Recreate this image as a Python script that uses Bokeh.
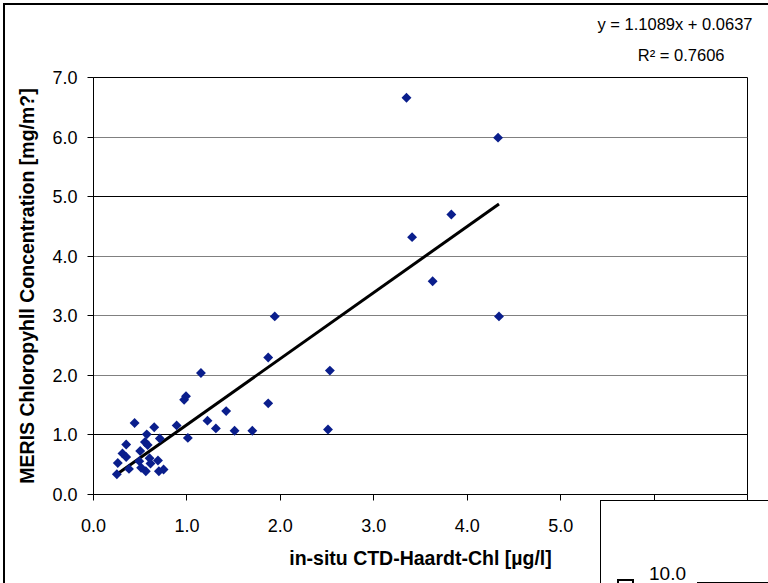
import math
from bokeh.plotting import figure
from bokeh.models import Range1d, FixedTicker, Grid, NumeralTickFormatter, Title, Div
from bokeh.layouts import column
from bokeh.embed import file_html
from bokeh.resources import INLINE

# in-situ CTD-Haardt-Chl [µg/l]
insitu_chl = [0.25, 0.26, 0.31, 0.35, 0.35, 0.38, 0.44, 0.50, 0.49, 0.57,
              0.55, 0.58, 0.51, 0.56, 0.60, 0.61, 0.65, 0.69, 0.71, 0.70,
              0.75, 0.89, 0.97, 0.99, 1.01, 1.15, 1.22, 1.31, 1.42, 1.51,
              1.70, 1.87, 1.87, 1.94, 2.53, 2.51, 3.35, 3.41, 3.63, 3.83,
              4.33, 4.34]
# MERIS chlorophyll concentration [mg/m3]
meris_chl = [0.34, 0.53, 0.69, 0.84, 0.63, 0.43, 1.20, 0.73, 0.56, 1.01,
             0.88, 0.83, 0.45, 0.39, 0.61, 0.52, 1.13, 0.57, 0.94, 0.39,
             0.42, 1.16, 1.59, 1.65, 0.95, 2.04, 1.24, 1.11, 1.40, 1.07,
             1.07, 1.53, 2.30, 2.99, 2.08, 1.09, 6.66, 4.32, 3.58, 4.70,
             5.99, 2.99]

SLOPE = 1.1089
INTERCEPT = 0.0637
R2 = 0.7606

x_ticks = [0, 1, 2, 3, 4, 5, 6, 7]
y_ticks = [0, 1, 2, 3, 4, 5, 6, 7]
hidden_x_labels = {6: "", 7: ""}   # covered by the neighbouring chart
y_grid_dark = [1, 5, 7]
y_grid_light = [2, 3, 4, 6]
inset_tick_label = "10.0"

FONT = "Liberation Sans"
W, H = 768, 582
FL, FR, FT, FB = 93, 747, 77, 494   # frame edges in page pixels

p = figure(width=W, height=H, x_range=Range1d(0, 7), y_range=Range1d(0, 7),
           output_backend="svg", toolbar_location=None,
           min_border_left=FL, min_border_right=W - FR, min_border_top=FT, min_border_bottom=H - FB)
p.background_fill_color = "white"
p.border_fill_color = "white"
p.outline_line_color = "black"
p.outline_line_width = 1

for ax in (p.xaxis[0], p.yaxis[0]):
    ax.axis_line_color = "black"
    ax.major_tick_line_color = "black"
    ax.major_tick_out = 6
    ax.major_tick_in = 0
    ax.minor_tick_line_color = None
    ax.major_label_text_font = FONT
    ax.major_label_text_font_size = "18px"
    ax.major_label_text_color = "black"
    ax.axis_label_text_font = FONT
    ax.axis_label_text_font_size = "19.5px"
    ax.axis_label_text_font_style = "bold"
    ax.axis_label_text_color = "black"
    ax.formatter = NumeralTickFormatter(format="0.0")

p.xaxis.ticker = FixedTicker(ticks=x_ticks)
p.yaxis.ticker = FixedTicker(ticks=y_ticks)
p.xaxis.major_label_overrides = hidden_x_labels
p.xaxis.axis_label = "in-situ CTD-Haardt-Chl [µg/l]"
p.yaxis.axis_label = "MERIS Chloropyhll Concentration [mg/m?]"
p.xaxis.major_label_standoff = 18
p.yaxis.major_label_standoff = 10
p.xaxis.axis_label_standoff = 12
p.yaxis.axis_label_standoff = 11

p.xgrid.visible = False
p.ygrid.ticker = FixedTicker(ticks=y_grid_dark)
p.ygrid.grid_line_color = "black"
p.ygrid.grid_line_width = 1
p.add_layout(Grid(dimension=1, ticker=FixedTicker(ticks=y_grid_light),
                  grid_line_color="#808080", grid_line_width=1))

# trend line (linear fit given by the equation)
x_fit = [min(insitu_chl), max(insitu_chl)]
y_fit = [SLOPE * v + INTERCEPT for v in x_fit]
p.line(x_fit, y_fit, line_color="black", line_width=3)

p.scatter(insitu_chl, meris_chl, marker="square", size=7, angle=math.pi / 4,
          fill_color="#0A1E8C", line_color=None)

# equation of the trend line (first added = closest to the plot)
p.add_layout(Title(text=f"R² = {R2}", align="right", offset=23, standoff=28,
                   text_font=FONT, text_font_size="16.5px", text_font_style="normal",
                   text_color="black"), "above")
try:
    eq_title = Title(text=f"y = {SLOPE}x + {INTERCEPT}", align="right", offset=-5, standoff=-7,
                     text_font=FONT, text_font_size="16.5px", text_font_style="normal",
                     text_color="black")
except Exception:
    eq_title = Title(text=f"y = {SLOPE}x + {INTERCEPT}", align="right", offset=-5, standoff=0,
                     text_font=FONT, text_font_size="16.5px", text_font_style="normal",
                     text_color="black")
p.add_layout(eq_title, "above")

# chart border and the edge of the neighbouring chart (bottom right)
overlay_html = (
    '<div style="position:fixed;left:0;top:0;width:0;height:0;pointer-events:none;">'
    '<div style="position:fixed;left:3px;top:3px;width:765px;height:580px;box-sizing:border-box;'
    'border-left:2px solid #000;border-top:2px solid #000;"></div>'
    '<div style="position:fixed;left:600px;top:500px;width:168px;height:83px;box-sizing:border-box;'
    'border-left:1px solid #000;border-top:1px solid #000;background:#fff;overflow:hidden;">'
    '<div style="position:absolute;left:48px;top:62px;font-family:\'Liberation Sans\';font-size:19px;'
    'line-height:normal;color:#000;white-space:nowrap;">' + inset_tick_label + '</div>'
    '<div style="position:absolute;left:16px;top:78px;width:17px;height:20px;box-sizing:border-box;'
    'border:2px solid #000;"></div>'
    '<div style="position:absolute;left:96px;top:81px;width:80px;height:1px;background:#000;"></div>'
    '<div style="position:absolute;left:103px;top:81px;width:1px;height:20px;background:#000;"></div>'
    '</div></div>'
)
overlay = Div(text=overlay_html, width=W, height=1, margin=0)

layout = column(p, overlay, spacing=0)

open("out.html", "w").write(file_html(layout, INLINE))
